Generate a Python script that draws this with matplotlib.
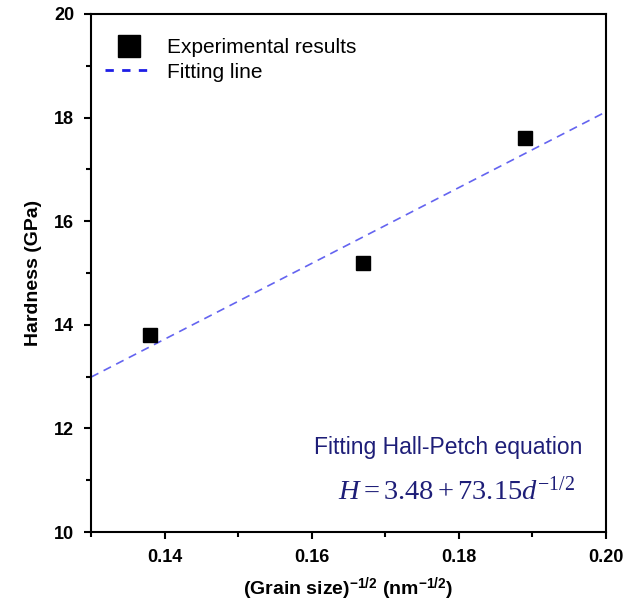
import matplotlib.pyplot as plt
from matplotlib.lines import Line2D
from matplotlib.ticker import MultipleLocator

plt.rcParams['font.family'] = ['Liberation Sans', 'DejaVu Sans']
plt.rcParams['mathtext.fontset'] = 'custom'
plt.rcParams['mathtext.rm'] = 'Liberation Serif'
plt.rcParams['mathtext.it'] = 'Liberation Serif:italic'
plt.rcParams['mathtext.bf'] = 'Liberation Serif:bold'
plt.rcParams['mathtext.sf'] = 'Liberation Sans:bold'

# experimental points
grain_x = [0.138, 0.167, 0.189]
hardness = [13.8, 15.2, 17.6]

# fitted line end points
fit_x = [0.13, 0.20]
fit_y = [12.99, 18.11]

fig = plt.figure(figsize=(6.38, 6.06), dpi=100)
ax = fig.add_axes([0.1426, 0.122, 0.807, 0.855])

ax.plot(fit_x, fit_y, linestyle=(0, (5, 3.5)), color='#6464f0', linewidth=1.2)
ax.plot(grain_x, hardness, 's', color='black', markersize=9.4, linestyle='none')

ax.set_xlim(0.13, 0.20)
ax.set_ylim(10, 20)
ax.xaxis.set_major_locator(MultipleLocator(0.02))
ax.xaxis.set_minor_locator(MultipleLocator(0.01))
ax.yaxis.set_major_locator(MultipleLocator(2))
ax.yaxis.set_minor_locator(MultipleLocator(1))
ax.xaxis.set_major_formatter(plt.FormatStrFormatter('%.2f'))
ax.tick_params(which='both', direction='out', width=1.5, top=False, right=False)
ax.tick_params(which='major', length=5, labelsize=13, pad=7)
ax.tick_params(which='minor', length=3.5)
for lbl in ax.get_xticklabels() + ax.get_yticklabels():
    lbl.set_fontweight('bold')
for s in ax.spines.values():
    s.set_linewidth(1.5)

ax.set_xlabel('(Grain size)$^{\\mathsf{-1/2}}$ (nm$^{\\mathsf{-1/2}}$)', fontsize=14, fontweight='bold', labelpad=7)
ax.set_ylabel('Hardness (GPa)', fontsize=14, fontweight='bold', labelpad=9)

h_pts = Line2D([], [], marker='s', color='black', markersize=16.5, linestyle='none')
h_fit = Line2D([], [], color='#1e1ee6', linewidth=2, linestyle=(0, (3, 3)))
ax.legend([h_pts, h_fit], ['Experimental results', 'Fitting line'], loc='upper left',
          bbox_to_anchor=(0.011, 0.969), frameon=False, fontsize=15, handlelength=2.3,
          handletextpad=0.67, borderaxespad=0, labelspacing=0.25)

ax.text(0.955, 0.164, 'Fitting Hall-Petch equation', transform=ax.transAxes, ha='right',
        va='center', fontsize=16.5, color='#1e1e78')
ax.text(0.94, 0.078, '$H=3.48+73.15d^{-1/2}$', transform=ax.transAxes, ha='right',
        va='center', fontsize=20.5, color='#1e1e78')

fig.savefig('out.png', dpi=100)
